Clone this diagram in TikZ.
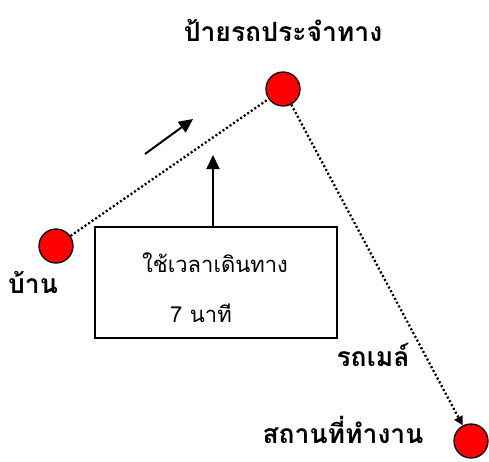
\documentclass[tikz,border=0pt]{standalone}
\usepackage{fontspec}
\newfontfamily\thai[Script=Thai]{Loma}
\usetikzlibrary{arrows.meta}
\begin{document}
\begin{tikzpicture}[x=1pt,y=-1pt,
  stopdot/.style={circle,draw=black,line width=1.3pt,fill=red,minimum size=34pt,inner sep=0pt},
  lbl/.style={font=\thai\bfseries\fontsize{26.5}{30}\selectfont,inner sep=0pt},
  boxtxt/.style={font=\thai\fontsize{22}{26}\selectfont,inner sep=0pt},
  dots/.style={line width=2.3pt,dash pattern=on 2pt off 2.3pt},
  arr/.style={line width=2pt,-{Triangle[length=14pt,width=13pt]}}]
\useasboundingbox (0,0) rectangle (489,461);
\node[stopdot] (stop) at (283,89) {};
\node[stopdot] (home) at (56,246) {};
\node[stopdot] (work) at (471,441) {};
\node[lbl] (tstop) at (283,30) {ป้ายรถประจำทาง};
\node[lbl] (thome) at (33,282) {บ้าน};
\node[lbl] (tbus) at (373,355) {รถเมล์};
\node[lbl] (twork) at (343,430) {สถานที่ทำงาน};
\node[draw,line width=1.5pt,minimum width=242pt,minimum height=111pt,inner sep=0pt] (box) at (216,282.5) {};
\node[boxtxt] (t1) at (215,263) {ใช้เวลาเดินทาง};
\node[boxtxt] (t2) at (201,313) {7 นาที};
\coordinate (up) at (213,155);
\coordinate (a1) at (145,154);
\coordinate (a2) at (193,119);
\draw[arr] (box.north -| up) -- (up);
\draw[arr] (a1) -- (a2);
\draw[dots] (home) -- (stop);
\draw[dots,-{Triangle[length=9pt,width=9pt]}] (stop) -- (work);
\end{tikzpicture}
\end{document}
